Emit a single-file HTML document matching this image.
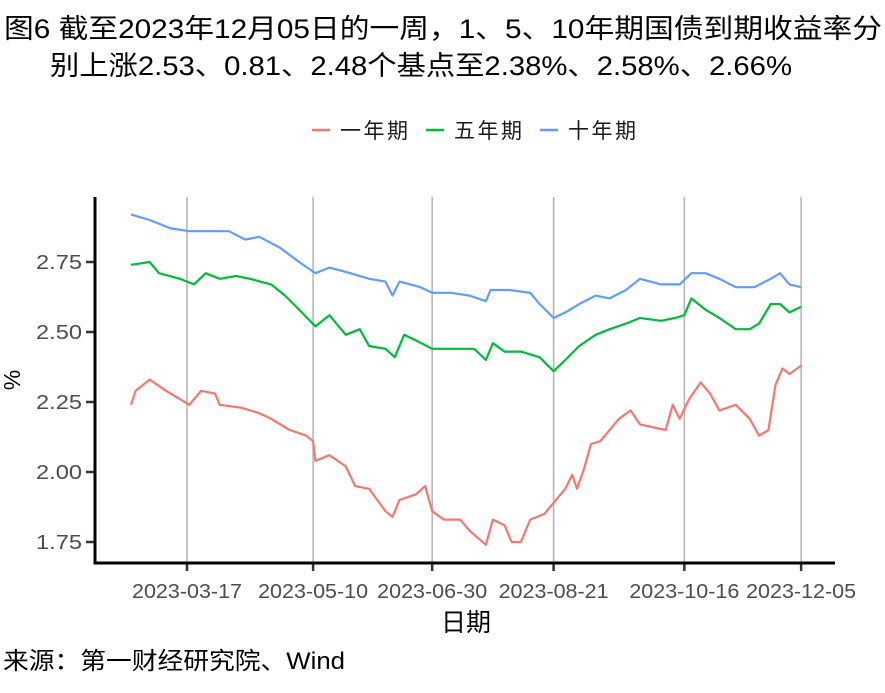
<!DOCTYPE html>
<html><head><meta charset="utf-8"><style>
body{margin:0;background:#fff;font-family:"Liberation Sans","Noto Sans CJK SC",sans-serif;}
svg text{font-family:"Liberation Sans","Noto Sans CJK SC",sans-serif;}
</style></head><body>
<svg id="chart" width="885" height="688" viewBox="0 0 885 688" xmlns="http://www.w3.org/2000/svg">
<text x="4" y="38" font-size="27" textLength="878" lengthAdjust="spacingAndGlyphs" fill="#000">图6  截至2023年12月05日的一周，1、5、10年期国债到期收益率分</text>
<text x="50" y="75" font-size="27" textLength="742" lengthAdjust="spacingAndGlyphs" fill="#000">别上涨2.53、0.81、2.48个基点至2.38%、2.58%、2.66%</text>
<g>
<line x1="312" y1="130" x2="330" y2="130" stroke="#F8766D" stroke-width="2.5"/>
<text x="340" y="138" font-size="21" textLength="68" fill="#1a1a1a">一年期</text>
<line x1="426" y1="130" x2="444" y2="130" stroke="#00BA38" stroke-width="2.5"/>
<text x="454" y="138" font-size="21" textLength="68" fill="#1a1a1a">五年期</text>
<line x1="540" y1="130" x2="558" y2="130" stroke="#619CFF" stroke-width="2.5"/>
<text x="568" y="138" font-size="21" textLength="68" fill="#1a1a1a">十年期</text>
</g>
<g id="grid"></g><g id="series"></g><g id="axes"></g>
<text transform="translate(20,380) rotate(-90)" text-anchor="middle" font-size="23" fill="#000">%</text>
<text x="466" y="631" text-anchor="middle" font-size="25" fill="#000">日期</text>
<text x="3" y="669" font-size="24" textLength="342" lengthAdjust="spacingAndGlyphs" fill="#000">来源：第一财经研究院、Wind</text>
</svg>
<script>
const xTickDays=[0,54,105,157,213,263];
const xTickLabels=["2023-03-17","2023-05-10","2023-06-30","2023-08-21","2023-10-16","2023-12-05"];
const yTicks=[1.75,2.00,2.25,2.50,2.75];
const yTickLabels=["1.75","2.00","2.25","2.50","2.75"];
const days1y=[-24,-22,-16,-9,-3,1,6,12,14,23,31,36,44,51,54,55,61,68,72,78,85,88,91,98,102,105,110,117,121,128,131,136,139,143,147,153,158,162,165,167,170,173,177,181,185,190,194,205,208,211,215,220,224,228,235,241,245,249,252,255,258,263];
const vals1y=[2.24,2.29,2.33,2.29,2.26,2.24,2.29,2.28,2.24,2.23,2.21,2.19,2.15,2.13,2.11,2.04,2.06,2.02,1.95,1.94,1.86,1.84,1.90,1.92,1.95,1.86,1.83,1.83,1.79,1.74,1.83,1.81,1.75,1.75,1.83,1.85,1.90,1.94,1.99,1.94,2.01,2.10,2.11,2.15,2.19,2.22,2.17,2.15,2.24,2.19,2.26,2.32,2.28,2.22,2.24,2.19,2.13,2.15,2.31,2.37,2.35,2.38];
const days5y=[-24,-16,-12,-3,3,8,14,21,27,36,42,48,55,61,68,74,78,85,89,93,98,105,110,117,123,128,131,136,143,151,157,162,168,175,181,188,194,203,209,213,216,222,228,235,241,245,250,254,258,263];
const vals5y=[2.74,2.75,2.71,2.69,2.67,2.71,2.69,2.70,2.69,2.67,2.63,2.58,2.52,2.56,2.49,2.51,2.45,2.44,2.41,2.49,2.47,2.44,2.44,2.44,2.44,2.40,2.46,2.43,2.43,2.41,2.36,2.40,2.45,2.49,2.51,2.53,2.55,2.54,2.55,2.56,2.62,2.58,2.55,2.51,2.51,2.53,2.60,2.60,2.57,2.59];
const days10y=[-24,-16,-7,1,10,18,25,31,40,48,55,61,70,78,85,88,91,100,105,113,121,128,130,138,147,151,157,162,168,175,181,188,194,203,211,216,222,228,235,243,250,254,258,263];
const vals10y=[2.92,2.90,2.87,2.86,2.86,2.86,2.83,2.84,2.80,2.75,2.71,2.73,2.71,2.69,2.68,2.63,2.68,2.66,2.64,2.64,2.63,2.61,2.65,2.65,2.64,2.60,2.55,2.57,2.60,2.63,2.62,2.65,2.69,2.67,2.67,2.71,2.71,2.69,2.66,2.66,2.69,2.71,2.67,2.66];
const NS="http://www.w3.org/2000/svg";
const X=d=>187+d*2.335;
const Y=v=>262+(2.75-v)*280;
function mk(tag,attrs,parent){const e=document.createElementNS(NS,tag);for(const k in attrs)e.setAttribute(k,attrs[k]);parent.appendChild(e);return e;}
const grid=document.getElementById('grid'),series=document.getElementById('series'),axes=document.getElementById('axes');
xTickDays.forEach((d,i)=>{
 const g=mk('line',{x1:X(d),x2:X(d),y1:197,y2:563,stroke:'#b3b3b3','stroke-width':1.5},grid);
 
 
 const t=mk('line',{x1:X(d),x2:X(d),y1:563,y2:571,stroke:'#333','stroke-width':2.5},axes);
 
 
 const l=mk('text',{x:X(d),y:598,'text-anchor':'middle','font-size':20,textLength:110,lengthAdjust:'spacingAndGlyphs',fill:'#4d4d4d'},axes);
 l.textContent=xTickLabels[i];
 
 
});
yTicks.forEach((v,i)=>{
 const t=mk('line',{x1:86,x2:95,y1:Y(v),y2:Y(v),stroke:'#333','stroke-width':2.5},axes);
 
 
 const l=mk('text',{x:82,y:Y(v)+7,'text-anchor':'end','font-size':20,textLength:46,lengthAdjust:'spacingAndGlyphs',fill:'#4d4d4d'},axes);
 l.textContent=yTickLabels[i];
 
 
});
const ya=mk('line',{x1:95,x2:95,y1:197,y2:564.5,stroke:'#000','stroke-width':3},axes);


const xa=mk('line',{x1:93.5,x2:835,y1:563,y2:563,stroke:'#000','stroke-width':3},axes);


function line(days,vals,color,name){
 const p=mk('polyline',{points:days.map((d,i)=>X(d)+','+Y(vals[i])).join(' '),fill:'none',stroke:color,'stroke-width':2.2,'stroke-linejoin':'round'},series);
 
 
}
line(days1y,vals1y,'#F8766D','line-1y');
line(days5y,vals5y,'#00BA38','line-5y');
line(days10y,vals10y,'#619CFF','line-10y');
</script>
</body></html>
